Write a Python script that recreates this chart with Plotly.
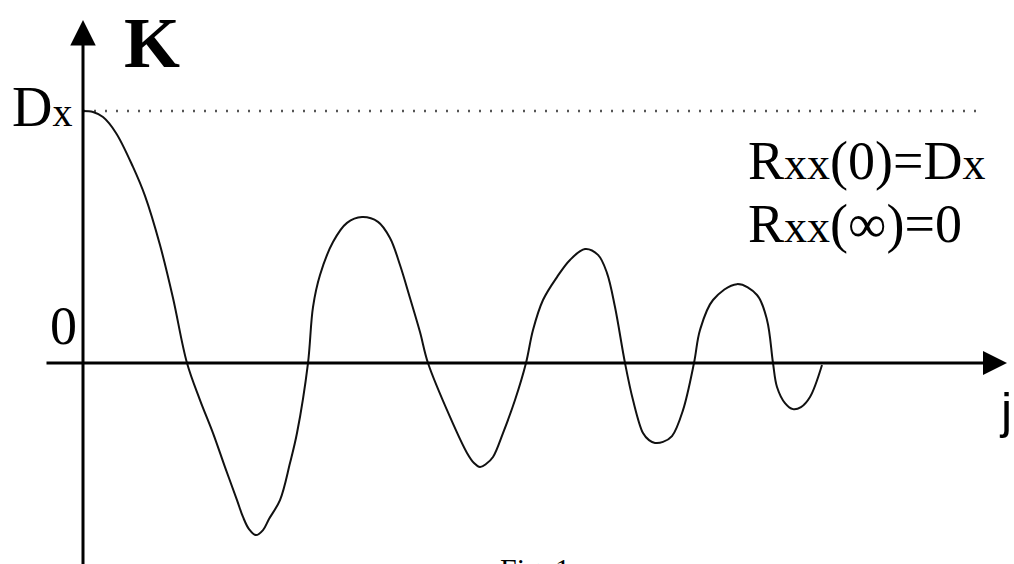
import plotly.graph_objects as go

# Lag j (arbitrary units) and correlation K (normalised so Dx = 1)
j_vals = [0.00, 0.10, 0.20, 0.33, 0.50, 0.62, 0.77, 0.90, 1.04,
          1.17, 1.30, 1.42, 1.54, 1.60, 1.66, 1.73, 1.80, 1.86, 1.97, 2.07, 2.14, 2.25,
          2.30, 2.37, 2.50, 2.64, 2.79, 2.95, 3.07, 3.17, 3.27, 3.37, 3.45,
          3.67, 3.84, 3.91, 3.97, 4.03, 4.10, 4.20, 4.32, 4.43,
          4.50, 4.60, 4.74, 4.87, 5.02, 5.15, 5.24, 5.32, 5.42,
          5.50, 5.60, 5.66, 5.72, 5.80, 5.89, 6.00, 6.11,
          6.17, 6.30, 6.54, 6.74, 6.84, 6.90,
          6.94, 7.02, 7.10, 7.18, 7.27, 7.39]
k_vals = [1.000, 0.996, 0.976, 0.913, 0.778, 0.663, 0.468, 0.258, 0.000,
          -0.147, -0.278, -0.413, -0.544, -0.611, -0.659, -0.683, -0.663, -0.619, -0.544, -0.397, -0.278, 0.000,
          0.222, 0.349, 0.480, 0.556, 0.579, 0.560, 0.496, 0.389, 0.258, 0.123, 0.000,
          -0.214, -0.357, -0.397, -0.413, -0.401, -0.373, -0.278, -0.147, 0.000,
          0.131, 0.250, 0.341, 0.409, 0.452, 0.429, 0.357, 0.222, 0.000,
          -0.147, -0.278, -0.306, -0.317, -0.313, -0.290, -0.187, 0.000,
          0.131, 0.250, 0.313, 0.270, 0.171, 0.000,
          -0.095, -0.159, -0.183, -0.175, -0.135, -0.008]

dx_level = 1.0
label_K = "K"
label_j = "j"
label_Dx = 'D<span style="font-size:40px">x</span>'
label_zero = "0"
note1 = 'R<span style="font-size:46px">xx</span>(0)=D<span style="font-size:46px">x</span>'
note2 = 'R<span style="font-size:46px">xx</span>(∞)=0'
caption = "Fig. 1"

X_RANGE = [-0.83, 9.31]
Y_RANGE = [-0.7976, 1.4405]

fig = go.Figure()

# dotted Dx level
fig.add_trace(go.Scatter(x=[0, 9.02], y=[dx_level, dx_level], mode="lines",
                         line=dict(color="#555555", width=2.5, dash="2px,9px"),
                         hoverinfo="skip", showlegend=False))

# correlation curve
fig.add_trace(go.Scatter(x=j_vals, y=k_vals, mode="lines",
                         line=dict(color="#111111", width=2, shape="spline", smoothing=1.0),
                         hoverinfo="skip", showlegend=False))

serif = "Liberation Serif, Times New Roman, serif"
annotations = [
    # x axis arrow
    dict(x=9.24, y=0, ax=-0.38, ay=0, xref="x", yref="y", axref="x", ayref="y",
         text="", showarrow=True, arrowhead=2, arrowsize=1.6, arrowwidth=3,
         arrowcolor="#000000", standoff=0),
    # y axis arrow
    dict(x=0, y=1.361, ax=0, ay=Y_RANGE[0] - 0.05, xref="x", yref="y", axref="x", ayref="y",
         text="", showarrow=True, arrowhead=2, arrowsize=1.7, arrowwidth=3,
         arrowcolor="#000000", standoff=0),
    dict(x=0.69, y=1.27, xref="x", yref="y", text=f"<b>{label_K}</b>", showarrow=False,
         font=dict(family=serif, size=72, color="#000000")),
    dict(x=-0.41, y=1.015, xref="x", yref="y", text=label_Dx, showarrow=False,
         font=dict(family=serif, size=56, color="#000000")),
    dict(x=-0.20, y=0.145, xref="x", yref="y", text=label_zero, showarrow=False,
         font=dict(family=serif, size=54, color="#000000")),
    dict(x=9.22, y=-0.19, xref="x", yref="y", text=label_j, showarrow=False,
         font=dict(family="Liberation Sans, Arial, sans-serif", size=50, color="#000000")),
    dict(x=6.63, y=0.80, xref="x", yref="y", text=note1, showarrow=False, xanchor="left",
         font=dict(family=serif, size=54, color="#000000")),
    dict(x=6.63, y=0.55, xref="x", yref="y", text=note2, showarrow=False, xanchor="left",
         font=dict(family=serif, size=54, color="#000000")),
    # caption, mostly below the visible page (only its top shows, as in the source)
    dict(x=0.491, y=0, xref="paper", yref="paper", text=caption, showarrow=False,
         xanchor="left", yanchor="middle", yshift=-4,
         font=dict(family=serif, size=30, color="#000000")),
]

fig.update_layout(
    width=1014, height=564,
    margin=dict(l=0, r=0, t=0, b=0),
    paper_bgcolor="white", plot_bgcolor="white",
    xaxis=dict(range=X_RANGE, visible=False, fixedrange=True),
    yaxis=dict(range=Y_RANGE, visible=False, fixedrange=True),
    annotations=annotations,
    showlegend=False,
)

fig.write_html("out.html", config={"displayModeBar": False, "staticPlot": True},
               post_script="document.body.style.margin='0';document.body.style.overflow='hidden';")
